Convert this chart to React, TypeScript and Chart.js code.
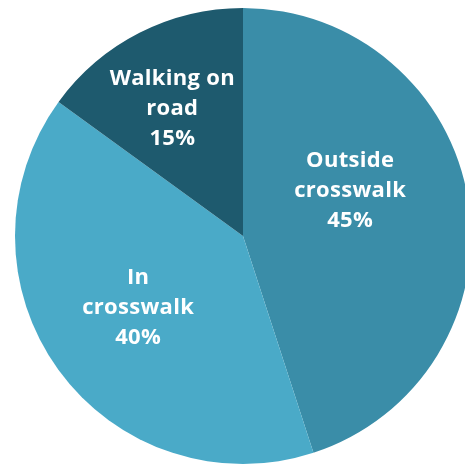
import React, { useEffect, useRef } from "react";
import { Chart, registerables } from "chart.js";

Chart.register(...registerables);

const categories = ["Outside crosswalk", "In crosswalk", "Walking on road"];
const values = [45, 40, 15];
const labelLines = [
  ["Outside", "crosswalk", "45%"],
  ["In", "crosswalk", "40%"],
  ["Walking on", "road", "15%"],
];
const colors = ["#3a8da8", "#4aaac8", "#1e5a6e"];
// label anchor offsets relative to the pie radius (x, y of middle line)
const labelAnchors = [
  [0.47, -0.2],
  [-0.46, 0.315],
  [-0.31, -0.56],
];

const labelPlugin = {
  id: "sliceLabels",
  afterDatasetsDraw(chart: any) {
    const meta = chart.getDatasetMeta(0);
    const ctx = chart.ctx;
    ctx.save();
    ctx.fillStyle = "#ffffff";
    ctx.font = "bold 22px 'Open Sans'";
    try {
      (ctx as any).letterSpacing = "0.3px";
    } catch (e) {}
    ctx.textAlign = "center";
    ctx.textBaseline = "middle";
    meta.data.forEach((arc: any, i: number) => {
      const { x, y, outerRadius } = arc.getProps(["x", "y", "outerRadius"], true);
      const cx = x + labelAnchors[i][0] * outerRadius;
      const cy = y + labelAnchors[i][1] * outerRadius;
      const lines = labelLines[i];
      const lh = 30;
      lines.forEach((t, j) => {
        ctx.fillText(t, cx, cy + (j - (lines.length - 1) / 2) * lh);
      });
    });
    ctx.restore();
  },
};

export default function App() {
  const ref = useRef<HTMLCanvasElement | null>(null);
  useEffect(() => {
    document.body.style.overflow = "hidden";
    const chart = new Chart(ref.current!, {
      type: "pie",
      data: {
        labels: categories,
        datasets: [
          {
            data: values,
            backgroundColor: colors,
            borderWidth: 0,
          },
        ],
      },
      options: {
        animation: false,
        responsive: false,
        maintainAspectRatio: false,
        layout: { padding: 0 },
        plugins: {
          legend: { display: false },
          tooltip: { enabled: false },
        },
      },
      plugins: [labelPlugin],
    });
    return () => chart.destroy();
  }, []);
  return (
    <div style={{ position: "fixed", left: 0, top: 0, width: 465, height: 466, overflow: "hidden", background: "#fff" }}>
      <canvas ref={ref} width={456} height={456} style={{ position: "absolute", left: 15, top: 8 }} />
    </div>
  );
}
